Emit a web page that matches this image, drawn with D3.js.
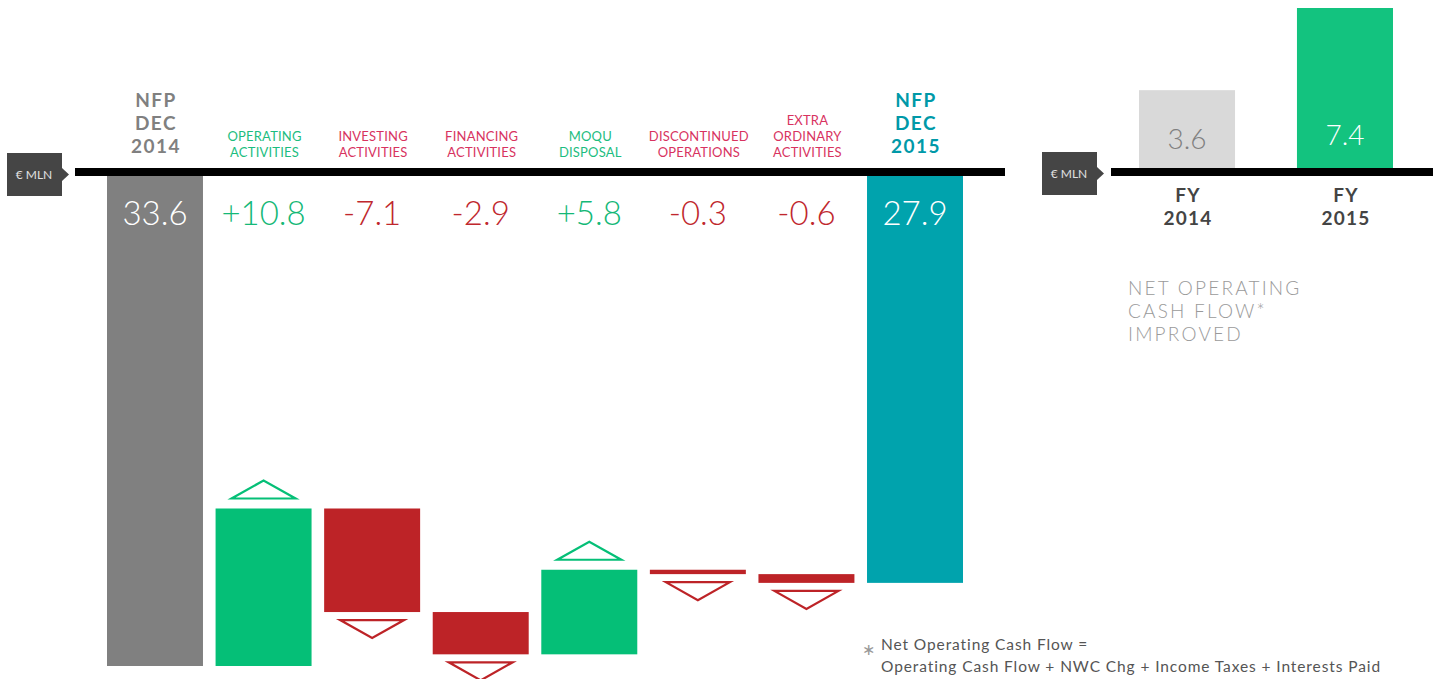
<!DOCTYPE html>
<html>
<head>
<meta charset="utf-8">
<script src="https://cdn.jsdelivr.net/npm/d3@7"></script>
<style>
  body { margin: 0; background: #fff; }
  svg { display: block; font-family: Lato, "Open Sans", sans-serif; }
</style>
</head>
<body>
<div id="container"></div>
<script>
// waterfall: net financial position
const stepLines = [
  ["NFP", "DEC", "2014"],
  ["OPERATING", "ACTIVITIES"],
  ["INVESTING", "ACTIVITIES"],
  ["FINANCING", "ACTIVITIES"],
  ["MOQU", "DISPOSAL"],
  ["DISCONTINUED", "OPERATIONS"],
  ["EXTRA", "ORDINARY", "ACTIVITIES"],
  ["NFP", "DEC", "2015"]
]
const stepValues = [33.6, 10.8, -7.1, -2.9, 5.8, -0.3, -0.6, 27.9]
const stepTypes = ["total", "flow", "flow", "flow", "flow", "flow", "flow", "total"]

// side chart: net operating cash flow
const fyLines = [["FY", "2014"], ["FY", "2015"]]
const fyValues = [3.6, 7.4]

const unitLabel = "€ MLN"
const noteTitle = ["NET OPERATING", "CASH FLOW*", "IMPROVED"]
const footnote = ["Net Operating Cash Flow =", "Operating Cash Flow + NWC Chg + Income Taxes + Interests Paid"]

const width = 1433
const height = 679

const GREEN = "#05bf77"
const RED = "#bd2327"
const TEAL = "#00a3ad"
const GRAY = "#808080"

const svg = d3.select("#container").append("svg")
    .attr("width", width)
    .attr("height", height)

// running debt -> floating bars
let debt = 0
const bars = stepValues.map((v, i) => {
    if (stepTypes[i] === "total") {
        debt = v
        return { i, v, lo: 0, hi: v, type: "total" }
    }
    const before = debt
    debt = debt - v
    return { i, v, lo: Math.min(before, debt), hi: Math.max(before, debt), type: "flow" }
})

const x = d3.scaleBand()
    .domain(d3.range(stepValues.length))
    .range([107, 963])
    .paddingInner(0.116)
    .paddingOuter(0)

const y = d3.scaleLinear()
    .domain([0, stepValues[0]])
    .range([176, 666])

const barColor = d => d.type === "total" ? (d.i === 0 ? GRAY : TEAL) : (d.v > 0 ? GREEN : RED)

svg.append("g").selectAll("rect")
    .data(bars)
    .enter().append("rect")
    .attr("x", d => x(d.i))
    .attr("y", d => y(d.lo))
    .attr("width", x.bandwidth())
    .attr("height", d => Math.max(1, y(d.hi) - y(d.lo)))
    .attr("fill", barColor)

// arrow triangles
const tri = d => {
    const cx = x(d.i) + x.bandwidth() / 2
    const hw = 32
    if (d.v > 0) {
        const b = y(d.lo) - 10
        return `M${cx - hw},${b}L${cx + hw},${b}L${cx},${b - 18}Z`
    }
    const b = y(d.hi) + 8
    return `M${cx - hw},${b}L${cx + hw},${b}L${cx},${b + 18}Z`
}

svg.append("g").selectAll("path")
    .data(bars.filter(d => d.type === "flow"))
    .enter().append("path")
    .attr("d", tri)
    .attr("fill", "none")
    .attr("stroke", d => d.v > 0 ? GREEN : RED)
    .attr("stroke-width", 2.2)

// baseline
svg.append("rect")
    .attr("x", 75).attr("y", 168)
    .attr("width", 930).attr("height", 8)
    .attr("fill", "#000")

// value labels
svg.append("g").selectAll("text")
    .data(bars)
    .enter().append("text")
    .attr("x", d => x(d.i) + x.bandwidth() / 2)
    .attr("y", 225)
    .attr("text-anchor", "middle")
    .attr("font-size", 33)
    .attr("font-weight", 300)
    .attr("fill", d => d.type === "total" ? "#fff" : (d.v > 0 ? "#14b877" : "#c0272d"))
    .text(d => d.type === "total" ? d.v.toFixed(1) : (d.v > 0 ? "+" : "") + d.v.toFixed(1))

// category labels
const head = svg.append("g").selectAll("text")
    .data(bars)
    .enter().append("text")
    .attr("text-anchor", "middle")
    .attr("fill", d => d.type === "total" ? (d.i === 0 ? GRAY : "#0099a8") : (d.v > 0 ? "#1cbd80" : "#d8335f"))
    .attr("font-size", d => d.type === "total" ? 19 : 13)
    .attr("font-weight", d => d.type === "total" ? 700 : 400)
    .attr("letter-spacing", d => d.type === "total" ? 1.5 : 0.2)

head.selectAll("tspan")
    .data(d => stepLines[d.i].map((t, k, arr) => ({ t, k, n: arr.length, d })))
    .enter().append("tspan")
    .attr("x", o => x(o.d.i) + x.bandwidth() / 2 + 1)
    .attr("y", o => o.d.type === "total"
        ? 153 - (o.n - 1 - o.k) * 23
        : 157 - (o.n - 1 - o.k) * 16)
    .text(o => o.t)

// unit tags
function unitTag(tx, ty) {
    const g = svg.append("g").attr("transform", `translate(${tx},${ty})`)
    g.append("rect").attr("width", 55).attr("height", 43).attr("fill", "#454545")
    g.append("path").attr("d", "M55,15L62,21.5L55,28Z").attr("fill", "#454545")
    g.append("text")
        .attr("x", 27).attr("y", 26)
        .attr("text-anchor", "middle")
        .attr("font-size", 12)
        .attr("fill", "#e0e0e0")
        .text(unitLabel)
}
unitTag(7, 153)
unitTag(1042, 152)

// side chart
const x2 = d3.scaleBand()
    .domain(d3.range(fyValues.length))
    .range([1139, 1393])
    .paddingInner(0.392)
    .paddingOuter(0)

const y2 = d3.scaleLinear()
    .domain([0, fyValues[1]])
    .range([168, 8])

svg.append("g").selectAll("rect")
    .data(fyValues)
    .enter().append("rect")
    .attr("x", (d, i) => x2(i))
    .attr("y", d => y2(d))
    .attr("width", x2.bandwidth())
    .attr("height", d => y2(0) - y2(d))
    .attr("fill", (d, i) => i === 0 ? "#d9d9d9" : "#13c37f")

svg.append("g").selectAll("text")
    .data(fyValues)
    .enter().append("text")
    .attr("x", (d, i) => x2(i) + x2.bandwidth() / 2)
    .attr("y", (d, i) => i === 0 ? 149 : 145)
    .attr("text-anchor", "middle")
    .attr("font-size", 28)
    .attr("font-weight", 300)
    .attr("fill", (d, i) => i === 0 ? GRAY : "#fff")
    .text(d => d.toFixed(1))

svg.append("rect")
    .attr("x", 1111).attr("y", 168)
    .attr("width", 322).attr("height", 8)
    .attr("fill", "#000")

const fy = svg.append("g").selectAll("text")
    .data(fyLines)
    .enter().append("text")
    .attr("text-anchor", "middle")
    .attr("font-size", 19)
    .attr("font-weight", 700)
    .attr("letter-spacing", 1.2)
    .attr("fill", "#444")

fy.selectAll("tspan")
    .data((d, i) => d.map((t, k) => ({ t, k, i })))
    .enter().append("tspan")
    .attr("x", o => x2(o.i) + x2.bandwidth() / 2 + 1)
    .attr("y", o => 202 + o.k * 23)
    .text(o => o.t)

svg.append("text")
    .attr("font-size", 19)
    .attr("font-weight", 300)
    .attr("letter-spacing", 2.2)
    .attr("fill", "#9a9a9a")
    .selectAll("tspan")
    .data(noteTitle)
    .enter().append("tspan")
    .attr("x", 1128)
    .attr("y", (d, i) => 295 + i * 23)
    .text(d => d)

// footnote
svg.append("text")
    .attr("x", 862).attr("y", 655)
    .attr("font-size", 16)
    .attr("fill", "#999")
    .text("∗")

svg.append("text")
    .attr("font-size", 15.5)
    .attr("letter-spacing", 0.9)
    .attr("fill", "#555")
    .selectAll("tspan")
    .data(footnote)
    .enter().append("tspan")
    .attr("x", 881)
    .attr("y", (d, i) => 650 + i * 22)
    .text(d => d)
</script>
</body>
</html>
